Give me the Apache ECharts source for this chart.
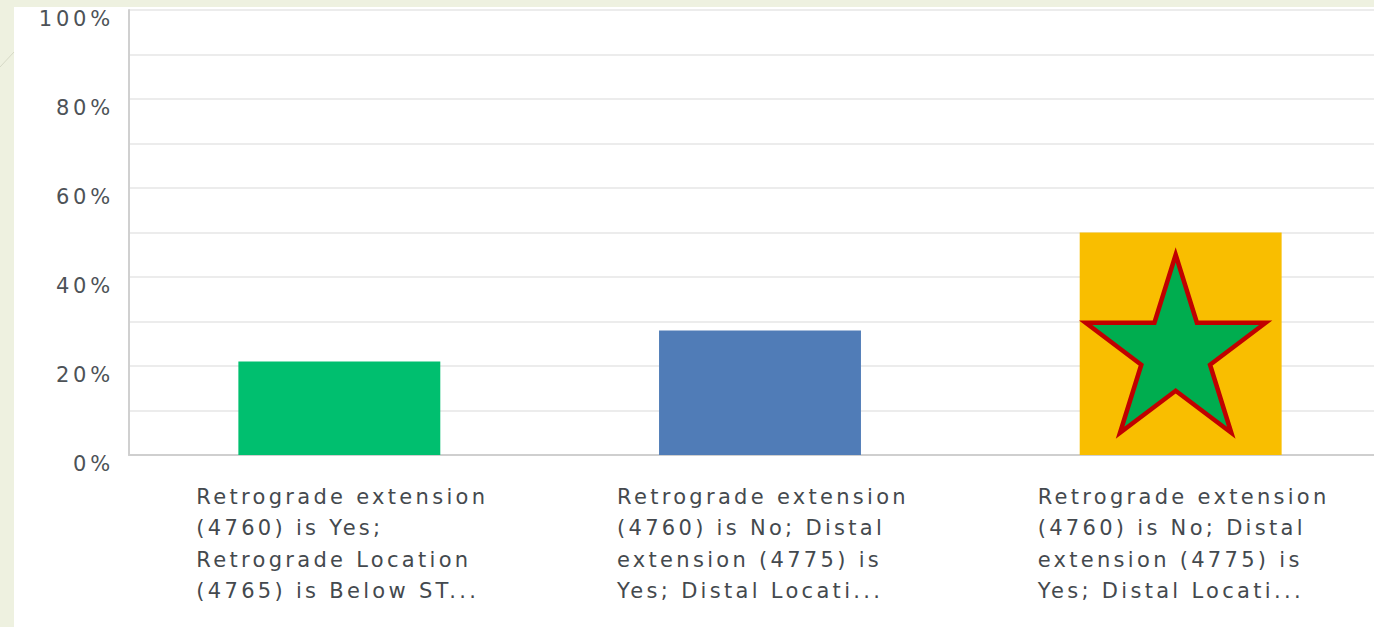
<!DOCTYPE html>
<html>
<head>
<meta charset="utf-8">
<script src="https://cdn.jsdelivr.net/npm/echarts@6/dist/echarts.min.js"></script>
<style>
  html, body { margin: 0; padding: 0; background: #eef1e0; overflow: hidden; width: 1374px; height: 627px; }
  #panel { position: absolute; left: 14px; top: 7px; right: 0; bottom: 0; background: #ffffff; }
  #chart { position: absolute; left: 0; top: 0; width: 1392px; height: 627px; }
  /* wide tracking for the axis text */
  #chart text { letter-spacing: 3.3px; }
  #chart text[text-anchor="end"] { letter-spacing: 3.8px; }
</style>
</head>
<body>
<div id="panel"></div>
<div id="chart"></div>
<script>
// Answer categories (labels are truncated as in the survey export)
const categories = [
  'Retrograde extension\n(4760) is Yes;\nRetrograde Location\n(4765) is Below ST...',
  'Retrograde extension\n(4760) is No; Distal\nextension (4775) is\nYes; Distal Locati...',
  'Retrograde extension\n(4760) is No; Distal\nextension (4775) is\nYes; Distal Locati...'
];
// Share of respondents, percent
const values = [21, 28, 50];
const barColors = ['#00bf6f', '#507cb7', '#f9be00'];
// Y axis ticks
const yTicks = [0, 20, 40, 60, 80, 100];
// Star highlight placed on the top answer (category index, value)
const starAt = [2, 25];

const starPath = 'path://M100,0 L122.45,69.1 L195.1,69.1 L136.33,111.8 L158.78,180.9 L100,138.2 L41.22,180.9 L63.67,111.8 L4.9,69.1 L77.55,69.1 Z';

const chart = echarts.init(document.getElementById('chart'), null, { renderer: 'svg' });
const font = 'DejaVu Sans';

chart.setOption({
  animation: false,
  backgroundColor: 'transparent',
  graphic: [{
    type: 'line',
    shape: { x1: 0, y1: 67, x2: 14, y2: 52 },
    style: { stroke: '#d6d9c6', lineWidth: 1 }
  }],
  grid: { left: 129, top: 10, width: 1262, height: 445, containLabel: false },
  xAxis: {
    type: 'category',
    data: categories,
    axisTick: { show: false },
    axisLine: { show: true, lineStyle: { color: '#cfcfcf', width: 2 } },
    axisLabel: {
      interval: 0,
      margin: 26,
      formatter: function (v) {
        return v.split('\n').map(function (l) { return '{t|' + l + '}'; }).join('\n');
      },
      rich: {
        t: {
          width: 286, align: 'left', fontFamily: font, fontSize: 21,
          lineHeight: 31.5, color: '#44494e'
        }
      }
    }
  },
  yAxis: {
    type: 'value',
    min: 0, max: 100, interval: 10,
    axisLine: { show: true, lineStyle: { color: '#d0d0d0', width: 2 } },
    axisTick: { show: false },
    splitLine: { lineStyle: { color: '#ececec', width: 2 } },
    axisLabel: {
      margin: 15,
      fontFamily: font, fontSize: 21, color: '#4d5257',
      verticalAlign: 'top',
      lineHeight: 18,
      formatter: function (v) { return yTicks.indexOf(v) >= 0 ? v + '%' : ''; }
    }
  },
  series: [{
    type: 'bar',
    barWidth: '48%',
    data: values.map(function (v, i) { return { value: v, itemStyle: { color: barColors[i] } }; }),
    markPoint: {
      symbol: starPath,
      symbolSize: [180, 178],
      symbolOffset: [-5, 0],
      itemStyle: { color: '#00ad4f', borderColor: '#c00000', borderWidth: 4.5 },
      label: { show: false },
      data: [{ coord: [starAt[0], starAt[1]] }]
    }
  }]
});
</script>
</body>
</html>
